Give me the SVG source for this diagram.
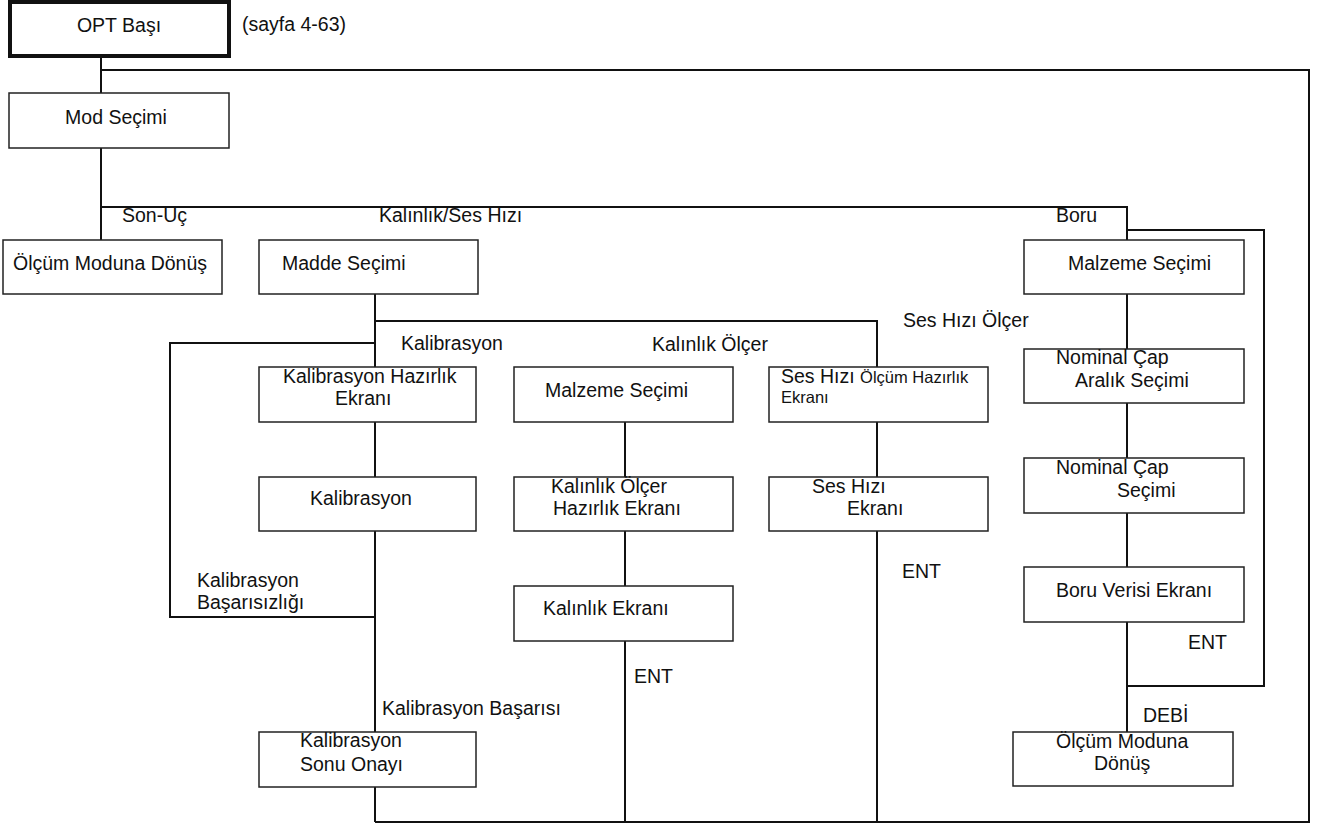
<svg xmlns="http://www.w3.org/2000/svg" width="1325" height="828" viewBox="0 0 1325 828">
<style>
.b{fill:#fff;stroke:#222;stroke-width:1.5}
.bt{fill:#fff;stroke:#111;stroke-width:4}
.c{fill:none;stroke:#111;stroke-width:2}
text{font-family:"Liberation Sans",Arial,sans-serif;font-size:19.5px;fill:#111}
.s{font-size:16.5px}
.m{text-anchor:middle}
</style>
<rect width="1325" height="828" fill="#fff"/>
<g id="connectors">
<path class="c" d="M101 57V93M101 70H1309V822H375M101 148V240M101 207H1127V240M1127 230H1264V686H1127"/>
<path class="c" d="M375 294V367M375 321H877V367M375 343H170V617H375M375 422V477M375 531V732M375 787V822"/>
<path class="c" d="M625 422V477M625 531V586M625 641V822M877 422V477M877 531V822"/>
<path class="c" d="M1127 294V349M1127 403V458M1127 513V567M1127 622V732"/>
</g>
<g id="labels">
<text x="242" y="31">(sayfa 4-63)</text>
<text x="122" y="222">Son-Uç</text>
<text x="379" y="222">Kalınlık/Ses Hızı</text>
<text x="1056" y="222">Boru</text>
<text x="903" y="327">Ses Hızı Ölçer</text>
<text x="401" y="350">Kalibrasyon</text>
<text x="652" y="351">Kalınlık Ölçer</text>
<text x="902" y="578">ENT</text>
<text x="197" y="587">Kalibrasyon</text>
<text x="197" y="609">Başarısızlığı</text>
<text x="1188" y="649">ENT</text>
<text x="634" y="683">ENT</text>
<text x="382" y="715">Kalibrasyon Başarısı</text>
<text x="1143" y="722">DEBİ</text>
</g>
<g id="opt"><rect class="bt" x="10" y="2" width="219" height="54"/><text class="m" x="119" y="32">OPT Başı</text></g>
<g id="mod"><rect class="b" x="9" y="93" width="220" height="55"/><text class="m" x="116" y="124">Mod Seçimi</text></g>
<g id="olcum1"><rect class="b" x="3" y="240" width="219" height="54"/><text x="13" y="270">Ölçüm Moduna Dönüş</text></g>
<g id="madde"><rect class="b" x="259" y="240" width="219" height="54"/><text x="282" y="270">Madde Seçimi</text></g>
<g id="malzeme2"><rect class="b" x="1024" y="240" width="220" height="54"/><text x="1068" y="270">Malzeme Seçimi</text></g>
<g id="kalhaz"><rect class="b" x="259" y="367" width="217" height="55"/><text x="283" y="383">Kalibrasyon Hazırlık</text><text x="335" y="405">Ekranı</text></g>
<g id="malzeme1"><rect class="b" x="514" y="367" width="219" height="55"/><text x="545" y="397">Malzeme Seçimi</text></g>
<g id="seshaz"><rect class="b" x="769" y="367" width="219" height="55"/><text x="781" y="383">Ses Hızı <tspan class="s">Ölçüm Hazırlık</tspan></text><text class="s" x="781" y="403">Ekranı</text></g>
<g id="nomaralik"><rect class="b" x="1024" y="349" width="220" height="54"/><text x="1056" y="364">Nominal Çap</text><text x="1075" y="387">Aralık Seçimi</text></g>
<g id="kalib"><rect class="b" x="259" y="477" width="217" height="54"/><text x="310" y="505">Kalibrasyon</text></g>
<g id="kalinhaz"><rect class="b" x="514" y="477" width="219" height="54"/><text x="551" y="493">Kalınlık Ölçer</text><text x="553" y="515">Hazırlık Ekranı</text></g>
<g id="sesekran"><rect class="b" x="769" y="477" width="219" height="54"/><text x="812" y="493">Ses Hızı</text><text x="847" y="515">Ekranı</text></g>
<g id="nomsec"><rect class="b" x="1024" y="458" width="220" height="55"/><text x="1056" y="474">Nominal Çap</text><text x="1117" y="497">Seçimi</text></g>
<g id="boruveri"><rect class="b" x="1024" y="567" width="220" height="55"/><text x="1056" y="597">Boru Verisi Ekranı</text></g>
<g id="kalinekran"><rect class="b" x="514" y="586" width="219" height="55"/><text x="543" y="615">Kalınlık Ekranı</text></g>
<g id="kalsonu"><rect class="b" x="259" y="732" width="217" height="55"/><text x="300" y="747">Kalibrasyon</text><text x="300" y="771">Sonu Onayı</text></g>
<g id="olcum2"><rect class="b" x="1013" y="732" width="220" height="54"/><text x="1056" y="748">Ölçüm Moduna</text><text x="1094" y="770">Dönüş</text></g>
</svg>
